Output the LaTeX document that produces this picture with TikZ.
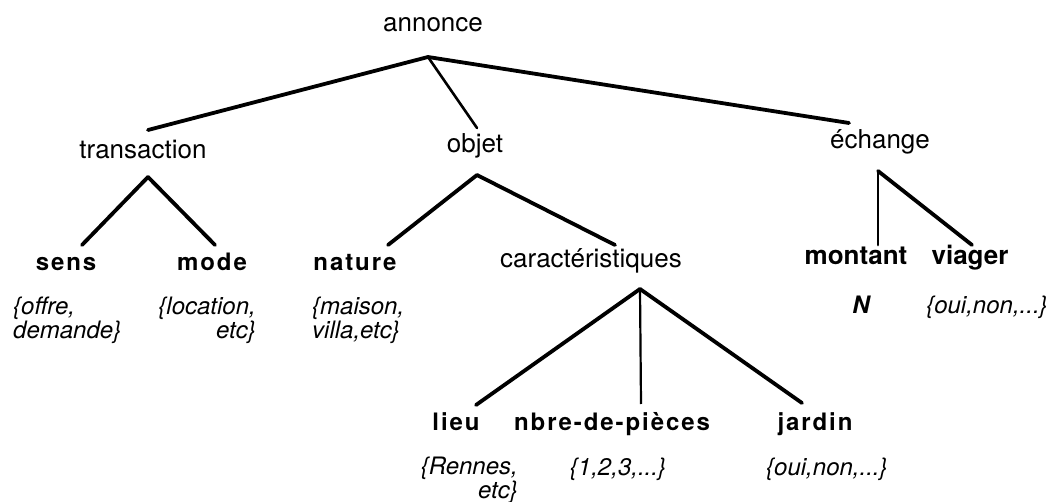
\documentclass[tikz,border=0pt]{standalone}
\usepackage{fontspec}
\setmainfont{TeX Gyre Heros}
\newfontfamily\espace[LetterSpace=8]{TeX Gyre Heros}

\begin{document}
\begin{tikzpicture}[x=1pt, y=-1pt,
  concept/.style={font=\fontsize{26}{28}\selectfont, inner sep=0pt, anchor=base},
  attribut/.style={font=\espace\bfseries\fontsize{24}{28}\selectfont, inner sep=0pt, anchor=base},
  valeurs/.style={font=\itshape\fontsize{24}{21}\selectfont, inner sep=0pt, align=left, anchor=north west},
  valbas/.style={valeurs, font=\itshape\fontsize{24}{20}\selectfont},
  branche/.style={line width=3.8pt, line cap=round},
  fine/.style={line width=2.2pt}
]
  \useasboundingbox (0,0) rectangle (1056,502);

  % niveau 0 et 1
  \node[concept] (annonce) at (433,32) {annonce};
  \node[concept] (transaction) at (143,159) {transaction};
  \node[concept] (objet) at (475,153) {objet};
  \node[concept] (echange) at (880,149) {échange};

  % attributs
  \node[attribut] (sens) at (66,271) {sens};
  \node[attribut] (mode) at (212,271) {mode};
  \node[attribut] (nature) at (355,271) {nature};
  \node[concept] (caract) at (591,268) {caractéristiques};
  \node[attribut, font=\bfseries\fontsize{26}{28}\selectfont] (montant) at (856,265) {montant};
  \node[attribut, font=\bfseries\fontsize{26}{28}\selectfont] (viager) at (970,265) {viager};
  \node[attribut] (lieu) at (456,430) {lieu};
  \node[attribut] (pieces) at (612,430) {nbre-de-pièces};
  \node[attribut] (jardin) at (815,430) {jardin};

  % domaines de valeurs
  \node[valeurs] (offre) at (13,297) {\{offre,\\demande\}};
  \node[valeurs, align=right, anchor=north east] (location) at (256,297) {\{location,\\etc\}};
  \node[valeurs] (maison) at (312,297) {\{maison,\\villa,etc\}};
  \node[valeurs, anchor=base, font=\bfseries\itshape\fontsize{24}{21}\selectfont] (entier) at (861,313) {N};
  \node[valeurs, anchor=base] (ouinon) at (987,313) {\{oui,non,...\}};
  \node[valbas, align=right, anchor=north east] (rennes) at (518,457) {\{Rennes,\\etc\}};
  \node[valbas, anchor=base] (nombres) at (618,475) {\{1,2,3,...\}};
  \node[valbas, anchor=base west] (jouinon) at (766,475) {\{oui,non,...\}};

  % points de depart des branches
  \coordinate (annonce-pied) at ([xshift=-5pt,yshift=-25pt]annonce.base);
  \coordinate (transaction-pied) at ([xshift=5pt,yshift=-18pt]transaction.base);
  \coordinate (objet-pied) at ([xshift=2pt,yshift=-22pt]objet.base);
  \coordinate (echange-pied) at ([xshift=-2pt,yshift=-22pt]echange.base);
  \coordinate (caract-pied) at ([xshift=49pt,yshift=-21pt]caract.base);

  \draw[branche] (annonce-pied) -- ([xshift=5pt,yshift=29pt]transaction.base);
  \draw[branche, line width=2.6pt] (annonce-pied) -- ([xshift=2pt,yshift=25pt]objet.base);
  \draw[branche] (annonce-pied) -- ([xshift=-31pt,yshift=26pt]echange.base);

  \draw[branche] (transaction-pied) -- ([xshift=16pt,yshift=26pt]sens.base);
  \draw[branche] (transaction-pied) -- ([xshift=3pt,yshift=26pt]mode.base);

  \draw[branche] (objet-pied) -- ([xshift=33pt,yshift=26pt]nature.base);
  \draw[branche] (objet-pied) -- ([xshift=24pt,yshift=23pt]caract.base);

  \draw[branche, line width=2.8pt] (echange-pied) -- ([xshift=22pt,yshift=20pt]montant.base);
  \draw[branche] (echange-pied) -- ([xshift=2pt,yshift=20pt]viager.base);

  \draw[branche] (caract-pied) -- ([xshift=20pt,yshift=25pt]lieu.base);
  \draw[fine] (caract-pied) -- ([xshift=29pt,yshift=26pt]pieces.base);
  \draw[branche] (caract-pied) -- ([xshift=-13pt,yshift=27pt]jardin.base);
\end{tikzpicture}
\end{document}
